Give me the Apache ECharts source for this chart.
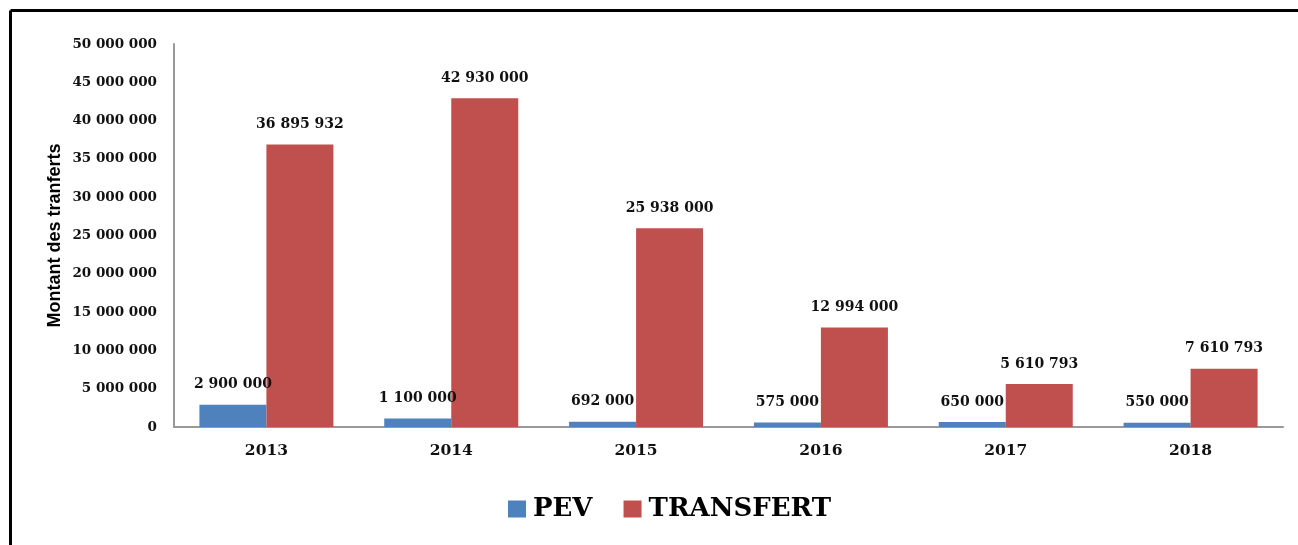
<!DOCTYPE html>
<html lang="fr">
<head>
    <meta charset="UTF-8">
    <title>Montant des transferts</title>
    <script src="https://cdn.jsdelivr.net/npm/echarts@6/dist/echarts.min.js"></script>
    <style>
        html, body { margin: 0; padding: 0; background: #fff; }
    </style>
</head>
<body>
    <div id="main" style="width: 1298px;height:545px;"></div>
    <script>
        // data
        const years = ['2013', '2014', '2015', '2016', '2017', '2018'];
        const pev = [2900000, 1100000, 692000, 575000, 650000, 550000];
        const transfert = [36895932, 42930000, 25938000, 12994000, 5610793, 7610793];

        function fmt(v) {
            return String(v).replace(/\B(?=(\d{3})+(?!\d))/g, ' ');
        }

        const serif = 'DejaVu Serif';

        var chart = echarts.init(document.getElementById('main'));
        var labelStyle = {
            show: true,
            position: 'top',
            distance: 13,
            fontFamily: serif,
            fontWeight: 'bold',
            fontSize: 14,
            color: '#111',
            formatter: p => fmt(p.value)
        };
        var option = {
            animation: false,
            // outer frame (top and left edges only are visible)
            graphic: [{
                type: 'line',
                shape: { x1: 10.5, y1: 10.5, x2: 1298, y2: 10.5 },
                style: { stroke: '#000', lineWidth: 3 }
            }, {
                type: 'line',
                shape: { x1: 10.5, y1: 10.5, x2: 10.5, y2: 545 },
                style: { stroke: '#000', lineWidth: 3 }
            }],
            grid: {
                left: 174,
                top: 44,
                right: 15,
                bottom: 118
            },
            legend: {
                left: 503,
                top: 491,
                icon: 'rect',
                itemWidth: 18,
                itemHeight: 17,
                itemGap: 31,
                textStyle: {
                    fontFamily: serif,
                    fontWeight: 'bold',
                    fontSize: 26,
                    color: '#000',
                    padding: [0, 0, 0, 2]
                },
                data: ['PEV', 'TRANSFERT']
            },
            xAxis: {
                type: 'category',
                data: years,
                axisLine: { lineStyle: { color: '#999', width: 2 } },
                axisTick: { show: false },
                axisLabel: {
                    margin: 16,
                    fontFamily: serif,
                    fontWeight: 'bold',
                    fontSize: 15.5,
                    color: '#111'
                }
            },
            yAxis: {
                type: 'value',
                min: 0,
                max: 50000000,
                interval: 5000000,
                name: 'Montant des tranferts',
                nameLocation: 'middle',
                nameGap: 110,
                nameMoveOverlap: false,
                nameTextStyle: {
                    fontFamily: 'Liberation Sans',
                    fontWeight: 'bold',
                    fontSize: 18,
                    color: '#000'
                },
                axisLine: { show: true, lineStyle: { color: '#999', width: 2 } },
                axisTick: { show: false },
                splitLine: { show: false },
                axisLabel: {
                    margin: 17,
                    fontFamily: serif,
                    fontWeight: 'bold',
                    fontSize: 13.5,
                    color: '#111',
                    formatter: v => fmt(v)
                }
            },
            series: [{
                name: 'PEV',
                type: 'bar',
                data: pev,
                barGap: '0%',
                barCategoryGap: '27.5%',
                itemStyle: { color: '#4F81BD' },
                label: labelStyle
            }, {
                name: 'TRANSFERT',
                type: 'bar',
                data: transfert,
                barGap: '0%',
                barCategoryGap: '27.5%',
                itemStyle: { color: '#C0504D' },
                label: labelStyle
            }]
        };

        chart.setOption(option);
    </script>
</body>
</html>
